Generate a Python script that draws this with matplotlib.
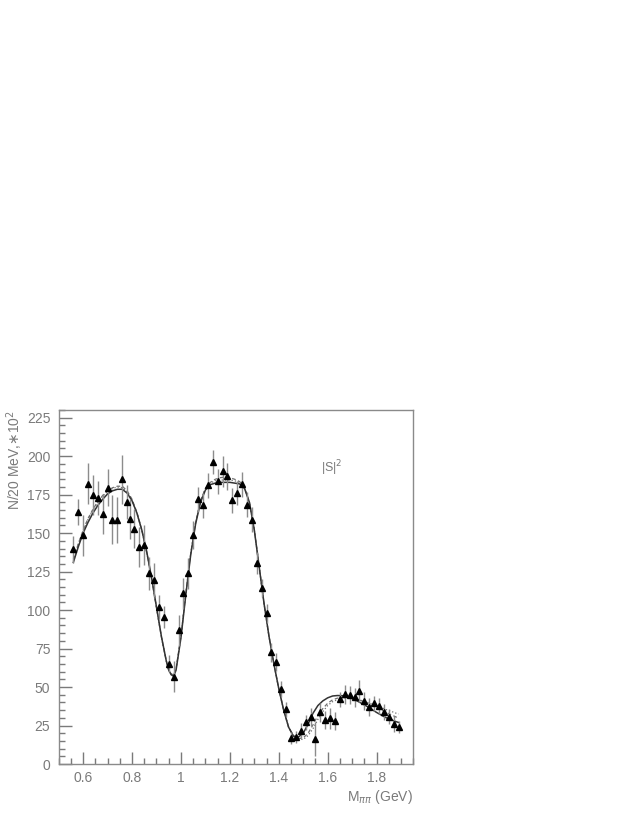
import numpy as np
import matplotlib
matplotlib.use("Agg")
import matplotlib.pyplot as plt
from matplotlib.ticker import MultipleLocator, FuncFormatter

# --- data ---
mass = [0.56, 0.58, 0.60, 0.62, 0.64, 0.66, 0.68, 0.70, 0.72, 0.74, 0.76, 0.78,
        0.79, 0.81, 0.83, 0.85, 0.87, 0.89, 0.91, 0.93, 0.95, 0.97, 0.99, 1.01,
        1.03, 1.05, 1.07, 1.09, 1.11, 1.13, 1.15, 1.17, 1.19, 1.21, 1.23, 1.25,
        1.27, 1.29, 1.31, 1.33, 1.35, 1.37, 1.39, 1.41, 1.43, 1.45, 1.47, 1.49,
        1.51, 1.53, 1.55, 1.57, 1.59, 1.61, 1.63, 1.65, 1.67, 1.69, 1.71, 1.73,
        1.75, 1.77, 1.79, 1.81, 1.83, 1.85, 1.87, 1.89]
counts = [139.5, 163.7, 148.6, 182.2, 175.0, 172.8, 162.7, 179.6, 158.8, 158.8, 185.0, 170.2,
          159.4, 153.0, 141.0, 142.0, 123.8, 119.4, 102.1, 95.6, 65.3, 56.7, 86.9, 110.8,
          123.8, 148.6, 172.0, 168.0, 181.0, 196.2, 183.6, 190.1, 186.9, 171.3, 176.0, 181.7,
          168.5, 158.8, 130.6, 114.4, 97.8, 72.5, 66.4, 48.7, 35.5, 16.7, 17.7, 21.6,
          27.1, 30.7, 16.2, 33.5, 28.6, 29.7, 28.1, 42.0, 45.2, 44.8, 43.3, 47.6,
          41.1, 37.2, 39.4, 37.6, 33.9, 30.7, 26.0, 24.2]
errors = [8.7, 8.7, 13.5, 13.5, 13.0, 11.0, 13.0, 12.0, 16.0, 15.0, 16.0, 11.0,
          13.0, 12.5, 13.0, 13.0, 11.0, 11.0, 8.0, 7.0, 5.5, 10.0, 10.0, 10.0,
          10.0, 9.0, 8.0, 8.0, 8.0, 8.0, 8.0, 10.0, 9.0, 8.0, 8.0, 8.0,
          8.0, 8.0, 7.0, 6.0, 6.0, 6.0, 6.0, 5.0, 5.0, 4.0, 4.0, 5.0,
          5.0, 6.0, 11.0, 6.0, 6.0, 7.0, 6.0, 5.0, 6.0, 6.0, 6.0, 7.0,
          6.0, 6.0, 5.0, 5.0, 5.0, 5.0, 5.0, 4.0]

# fit curves
fit_x = [0.56, 0.58, 0.60, 0.62, 0.64, 0.66, 0.68, 0.70, 0.72, 0.74, 0.76, 0.78,
         0.80, 0.82, 0.84, 0.86, 0.88, 0.90, 0.92, 0.94, 0.95, 0.96, 0.97, 0.98,
         1.00, 1.02, 1.04, 1.06, 1.08, 1.10, 1.12, 1.14, 1.16, 1.18, 1.20, 1.22,
         1.24, 1.26, 1.28, 1.30, 1.32, 1.34, 1.36, 1.38, 1.40, 1.42, 1.44, 1.46,
         1.48, 1.50, 1.52, 1.54, 1.56, 1.58, 1.60, 1.62, 1.64, 1.66, 1.68, 1.70,
         1.72, 1.74, 1.76, 1.78, 1.80, 1.82, 1.84, 1.86, 1.88, 1.89]
fit_solid = [131, 141, 150, 157, 163, 168, 172, 175.5, 177.5, 178.5, 178.5, 176,
             171, 163, 152, 138, 121, 102, 83, 67, 61, 58, 57, 61,
             82, 110, 136, 156, 170, 178, 181.5, 182.5, 183, 183, 183, 182.5,
             182, 179, 170, 152, 128, 104, 83, 65, 49, 35, 24, 18,
             17.5, 20, 26, 33, 38, 41, 43, 44.2, 44.5, 44.4, 44, 42.6,
             41, 39.3, 37.5, 35.5, 33.5, 31.7, 30, 28.7, 27.5, 27]
fit_dash = [133, 143, 152, 159.5, 165.5, 170.5, 174.5, 177.5, 179.5, 180.5, 180.5, 177.5,
            172, 163.5, 152, 137.5, 120.5, 101.5, 82.5, 67, 61, 58.5, 58, 62,
            83, 111, 137, 157, 171, 179, 183, 185, 186, 186.5, 186, 185,
            183.5, 179.5, 170, 152, 128, 104, 83, 65, 49, 35, 24, 18.5,
            16.5, 17, 20, 25.5, 31.5, 36, 39.5, 41.7, 42.8, 43.2, 43.2, 42.8,
            42, 41, 39.5, 38, 36.5, 35, 33.5, 32, 30.5, 30]
fit_dot = [132, 142.5, 151.5, 159, 165, 170, 174, 177, 179, 180, 179.5, 177,
           171.5, 163, 151.5, 137.5, 120.5, 101.5, 82.5, 67, 61, 58.5, 58, 62,
           83, 111, 137, 157, 171, 179, 182.5, 184, 184.5, 184.5, 184.5, 184,
           183, 179.5, 170, 152, 128, 104, 83, 65, 49, 35, 24, 18.5,
           16, 16, 18.5, 23, 29, 34, 38, 40.5, 41.8, 42.5, 42.7, 42.5,
           42, 41.2, 40.2, 39, 37.8, 36.6, 35.3, 34.2, 33, 32.5]

x_ticks = [0.6, 0.8, 1.0, 1.2, 1.4, 1.6, 1.8]
y_ticks = [0, 25, 50, 75, 100, 125, 150, 175, 200, 225]

plt.rcParams['font.family'] = ['Liberation Sans', 'DejaVu Sans']
grey = '#7a7a7a'

fig = plt.figure(figsize=(6.37, 8.24), dpi=100)
ax = fig.add_axes([0.0921, 0.0728, 0.5567, 0.4296])

ax.errorbar(mass, counts, yerr=errors, fmt='none', ecolor='#8c8c8c', elinewidth=1.0, capsize=0, zorder=2)
ax.plot(mass, counts, '^', color='black', markersize=4, zorder=3)

ax.plot(fit_x, fit_dot, ':', color='#707070', lw=0.9, zorder=1)
ax.plot(fit_x, fit_dash, '--', color='#707070', lw=0.9, dashes=(3, 2), zorder=1)
ax.plot(fit_x, fit_solid, '-', color='#333333', lw=1.1, zorder=1)

ax.set_xlim(0.5, 1.95)
ax.set_ylim(0, 230)
ax.set_xticks(x_ticks)
ax.set_yticks(y_ticks)
ax.xaxis.set_minor_locator(MultipleLocator(0.05))
ax.yaxis.set_minor_locator(MultipleLocator(5))
ax.xaxis.set_major_formatter(FuncFormatter(lambda v, p: '%g' % v))

ax.tick_params(which='major', direction='in', length=9, width=1, color=grey,
               labelcolor=grey, labelsize=10, pad=6)
ax.tick_params(which='minor', direction='in', length=4.5, width=1, color=grey)
ax.tick_params(axis='x', which='major', pad=5)
for s in ax.spines.values():
    s.set_color('#8a8a8a')
    s.set_linewidth(1.0)

ax.text(1.0, -0.093, r'M$_{\pi\pi}$ (GeV)', transform=ax.transAxes, ha='right', va='center',
        color=grey, fontsize=10)
fig.text(15 / 637, 1 - 410 / 824, r'N/20 MeV,$\ast$10$^2$', rotation=90, ha='center', va='top',
         color=grey, fontsize=10)
ax.text(0.74, 0.835, r'|S|$^2$', transform=ax.transAxes, ha='left', va='center',
        color=grey, fontsize=9)

fig.savefig('out.png', dpi=100)
